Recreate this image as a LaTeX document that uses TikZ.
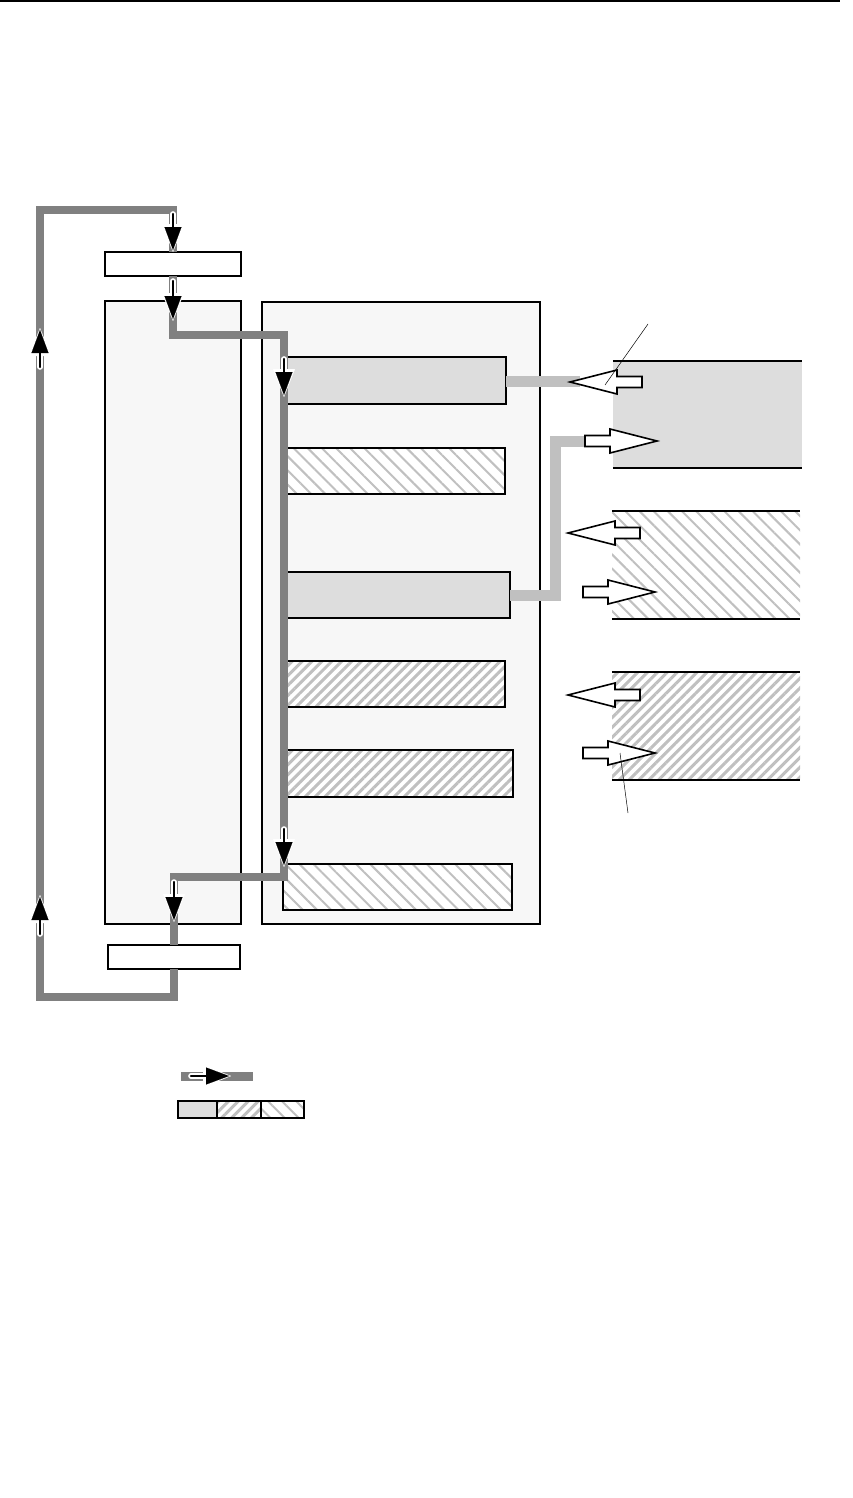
\documentclass[tikz,border=0pt]{standalone}
\usepackage{tikz}
\usetikzlibrary{positioning,patterns.meta,arrows.meta,calc}

\definecolor{flowgray}{HTML}{808080}
\definecolor{linkgray}{HTML}{C0C0C0}
\definecolor{panelfill}{HTML}{F7F7F7}
\definecolor{memfill}{HTML}{DDDDDD}
\definecolor{hatchgray}{HTML}{C0C0C0}

\tikzset{
  box/.style={draw=black, line width=1.6pt, inner sep=0pt, outer sep=0pt},
  whitebox/.style={box, fill=white},
  panel/.style={box, fill=panelfill},
  solidbar/.style={box, fill=memfill},
  backhatch/.style={box, preaction={fill=white}, pattern={Lines[angle=-45,distance=10pt,line width=2pt]}, pattern color=hatchgray},
  forehatch/.style={box, preaction={fill=white}, pattern={Lines[angle=45,distance=7pt,line width=3pt]}, pattern color=hatchgray},
  flowline/.style={draw=flowgray, line width=8.5pt},
  linkline/.style={draw=linkgray, line width=11pt},
  flowhalo/.style={white, line width=5.6pt, line cap=round, shorten >=19pt},
  flowhalotip/.style={white, line width=0.1pt, shorten >=-2pt, -{Triangle[length=28pt,width=22pt]}},
  flowcore/.style={black, line width=2.4pt, line cap=round, shorten >=19pt},
  flowcoretip/.style={black, line width=0.1pt, -{Triangle[length=23pt,width=17pt]}},
  hollowtip/.pic={\draw[black, fill=white, line width=1.6pt, line join=miter]
    (0,0) -- (47,12) -- (47,5.5) -- (72,5.5) -- (72,-5.5) -- (47,-5.5) -- (47,-12) -- cycle;}
}
\newcommand\flowmark[2]{\draw[flowhalo] #1 -- #2; \draw[flowhalotip] #1 -- #2;
  \draw[flowcore] #1 -- #2; \draw[flowcoretip] #1 -- #2;}

\begin{document}
\begin{tikzpicture}[x=1pt,y=-1pt]
\useasboundingbox (0,0) rectangle (852,1498);
\draw[line width=1.5pt] (0,1) -- (840,1);

% processing column and memory column
\node[panel, minimum width=136pt, minimum height=623pt] (cpu) at (173,612.5) {};
\node[panel, minimum width=278pt, minimum height=622pt] (mem) at (401,613) {};
\node[whitebox, minimum width=136pt, minimum height=24pt] (topbox) at (173,264) {};
\node[whitebox, minimum width=132pt, minimum height=24pt] (bottombox) at (174,957) {};

% memory bars
\node[solidbar, minimum width=221pt, minimum height=47pt] (bar1) at (395.5,380.5) {};
\node[backhatch, minimum width=220pt, minimum height=46pt] (bar2) at (395,471) {};
\node[solidbar, minimum width=225pt, minimum height=46pt] (bar3) at (397.5,595) {};
\node[forehatch, minimum width=220pt, minimum height=46pt] (bar4) at (395,684) {};
\node[forehatch, minimum width=228pt, minimum height=47pt] (bar5) at (399,773.5) {};
\node[backhatch, minimum width=229pt, minimum height=46pt] (bar6) at (397.5,887) {};

% outside blocks
\node[fill=memfill, minimum width=189pt, minimum height=107pt, inner sep=0pt] (blockA) at (707.5,414.5) {};
\node[preaction={fill=white}, pattern={Lines[angle=-45,distance=10pt,line width=2pt]}, pattern color=hatchgray,
  minimum width=188pt, minimum height=108pt, inner sep=0pt] (blockB) at (706,565) {};
\node[preaction={fill=white}, pattern={Lines[angle=45,distance=7pt,line width=3pt]}, pattern color=hatchgray,
  minimum width=188pt, minimum height=108pt, inner sep=0pt] (blockC) at (706,726) {};
\foreach \blk in {blockA,blockB,blockC} {
  \draw[line width=1.6pt] (\blk.north west) -- (\blk.north east);
  \draw[line width=1.6pt] (\blk.south west) -- (\blk.south east);
}

% flow loop
\coordinate (loopNW) at (40,210);
\coordinate (loopSW) at (40,997);
\coordinate (inbend) at (284,335);
\coordinate (outbend) at (284,877);
\draw[flowline] (bottombox.south) -- (bottombox.south |- loopSW) -- (loopSW) -- (loopNW) -- (loopNW -| topbox.north) -- (topbox.north);
\draw[flowline] (topbox.south) -- (topbox.south |- inbend) -- (inbend) -- (outbend) -- (outbend -| bottombox.north) -- (bottombox.north);

\flowmark{(173,214)}{(173,250)}
\flowmark{(173,281)}{(173,319)}
\flowmark{(284,359)}{(284,395)}
\flowmark{(284,829)}{(284,865)}
\flowmark{(174,882)}{(174,920)}
\flowmark{(40,367)}{(40,330)}
\flowmark{(40,934)}{(40,897)}

% links to outside blocks
\coordinate (linkA) at (580,381);
\coordinate (riseA) at (555,441);
\coordinate (linkB) at (590,441);
\draw[linkline] (bar1.east |- linkA) -- (linkA);
\draw[linkline] (bar3.east) -- (bar3.east -| riseA) -- (riseA) -- (linkB);

\pic at (570,382) {hollowtip};
\pic[rotate=180] at (657,441) {hollowtip};
\pic at (568,533) {hollowtip};
\pic[rotate=180] at (655,592) {hollowtip};
\pic at (568,695) {hollowtip};
\pic[rotate=180] at (655,753) {hollowtip};

% leaders
\draw[line width=0.5pt] (648,324) -- (605,385);
\draw[line width=0.5pt] (620,753) -- (628,813);

% legend
\coordinate (keyL) at (181,1076);
\coordinate (keyR) at (253,1076);
\draw[draw=flowgray, line width=9pt] (keyL) -- (keyR);
\flowmark{(191,1076)}{(229,1076)}
\node[solidbar, minimum width=39pt, minimum height=17pt] (key1) at (197.5,1109.5) {};
\node[forehatch, minimum width=44pt, minimum height=17pt, right=0pt of key1] (key2) {};
\node[backhatch, minimum width=43pt, minimum height=17pt, right=0pt of key2] (key3) {};
\end{tikzpicture}
\end{document}
